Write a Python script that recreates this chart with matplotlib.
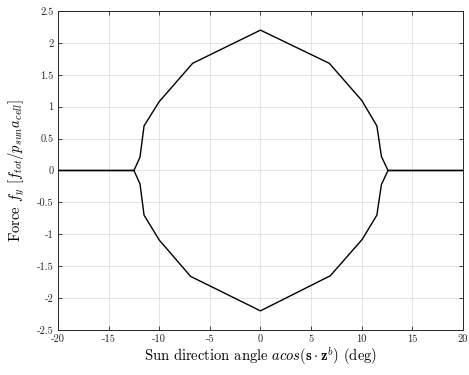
import matplotlib
matplotlib.use('Agg')
import matplotlib.pyplot as plt
from matplotlib.ticker import FuncFormatter

plt.rcParams['font.family'] = 'serif'
plt.rcParams['font.serif'] = ['cmr10', 'DejaVu Serif']
plt.rcParams['mathtext.fontset'] = 'cm'
plt.rcParams['axes.unicode_minus'] = False
plt.rcParams['axes.formatter.use_mathtext'] = True

# sun angle (deg) vs normalised force, upper and lower branch
angle_up = [-20, -12.5, -11.9, -11.5, -10.0, -6.7, 0.0, 6.8, 10.0, 11.5, 11.95, 12.6, 20]
fy_up = [0, 0, 0.21, 0.70, 1.08, 1.68, 2.2, 1.68, 1.10, 0.70, 0.22, 0, 0]
angle_lo = [-20, -12.5, -11.9, -11.5, -10.0, -6.9, 0.0, 6.9, 10.05, 11.5, 11.95, 12.6, 20]
fy_lo = [0, 0, -0.21, -0.70, -1.09, -1.66, -2.2, -1.65, -1.08, -0.70, -0.22, 0, 0]

xticks = [-20, -15, -10, -5, 0, 5, 10, 15, 20]
yticks = [-2.5, -2, -1.5, -1, -0.5, 0, 0.5, 1, 1.5, 2, 2.5]

fig = plt.figure(figsize=(4.69, 3.75), dpi=100)
ax = fig.add_axes([0.1237, 0.12, 0.8633, 0.8507])

ax.plot(angle_up, fy_up, '-', color='k', lw=1.0)
ax.plot(angle_lo, fy_lo, '-', color='k', lw=1.0)

ax.set_xlim(-20, 20)
ax.set_ylim(-2.5, 2.5)
ax.set_xticks(xticks)
ax.set_yticks(yticks)
fmt = FuncFormatter(lambda v, p: '{:g}'.format(v))
ax.xaxis.set_major_formatter(fmt)
ax.yaxis.set_major_formatter(fmt)

ax.grid(True, color='#dedede', lw=0.6)
ax.set_axisbelow(True)
ax.tick_params(direction='in', length=3, width=0.6, labelsize=7.5,
               top=True, right=True, colors='#262626', pad=3)
for s in ax.spines.values():
    s.set_color('#262626')
    s.set_linewidth(0.7)

ax.set_xlabel(r'Sun direction angle $acos(\mathbf{s}\cdot\mathbf{z}^b)$ (deg)',
              fontsize=10.5, labelpad=1)
ax.set_ylabel(r'Force $f_y$ $[f_{tot}/p_{sun}a_{cell}]$', fontsize=10.5, labelpad=7)

fig.savefig('out.png', dpi=100)
